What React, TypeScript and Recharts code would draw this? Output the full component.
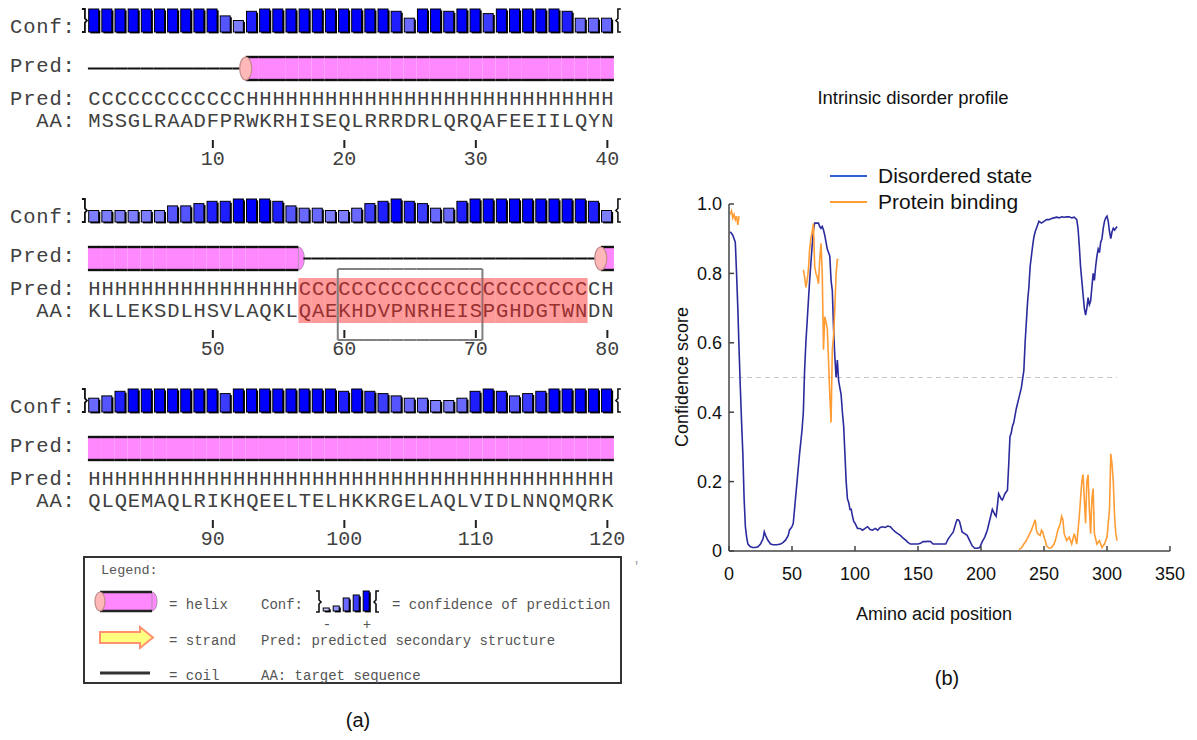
import React from 'react';
import { ComposedChart, Bar, XAxis, YAxis, LineChart, Line, ReferenceLine } from 'recharts';

// ---------------- Panel (a) data ----------------
const predRow1 = 'CCCCCCCCCCCC' + 'HHHHHHHHHHHHHHHHHHHHHHHHHHHH';
const predRow2 = 'HHHHHHHHHHHHHHHH' + 'CCCCCCCCCCCCCCCCCCCCCCC' + 'H';
const predRow3 = 'HHHHHHHHHHHHHHHHHHHHHHHHHHHHHHHHHHHHHHHH';
const aaRow1 = 'MSSGLRAADFPRWKRHISEQLRRRDRLQRQAFEEIILQYN';
const aaRow2 = 'KLLEKSDLHSVLAQKLQAEKHDVPNRHEISPGHDGTWNDN';
const aaRow3 = 'QLQEMAQLRIKHQEELTELHKKRGELAQLVIDLNNQMQRK';
const confRow1 = [9, 9, 9, 9, 9, 9, 9, 9, 9, 9, 6, 4, 8, 9, 9, 9, 9, 9, 9, 9, 9, 9, 9, 8, 5, 9, 9, 8, 9, 9, 7, 9, 9, 9, 9, 9, 8, 5, 5, 5];
const confRow2 = [4, 4, 4, 4, 4, 4, 6, 6, 7, 8, 8, 9, 9, 9, 8, 6, 5, 5, 4, 4, 5, 7, 8, 9, 8, 7, 5, 5, 8, 9, 9, 9, 9, 9, 9, 9, 9, 9, 8, 4];
const confRow3 = [5, 6, 8, 9, 9, 9, 9, 9, 9, 9, 7, 9, 9, 9, 9, 9, 9, 9, 9, 8, 9, 8, 7, 6, 5, 5, 4, 4, 5, 8, 9, 8, 6, 7, 8, 9, 9, 9, 9, 9];
const highlightRange = [57, 78];
const boxRange = [60, 70];
const legendConfIcons = [1, 3, 5, 7, 9];

// ---------------- Panel (b) data ----------------
const disorderPoints: number[][] = [
  [1, 0.92], [3, 0.91], [5, 0.89], [6, 0.8], [7, 0.7], [8, 0.58], [9, 0.47], [10, 0.37], [11, 0.28], [12, 0.15], [13, 0.07], [14, 0.04], [15, 0.02],
  [17, 0.012], [19, 0.01], [21, 0.01], [23, 0.012], [25, 0.02], [27, 0.035], [28, 0.055], [29, 0.045], [31, 0.03], [33, 0.02], [35, 0.018], [38, 0.018],
  [41, 0.02], [43, 0.025], [45, 0.032], [47, 0.045], [48, 0.06], [50, 0.07], [51, 0.08], [52, 0.12], [53, 0.16], [54, 0.2], [55, 0.24], [56, 0.28],
  [58, 0.35], [59, 0.4], [60, 0.52], [61, 0.6], [62, 0.66], [63, 0.72], [64, 0.78], [65, 0.83], [66, 0.88], [67, 0.925], [68, 0.945], [70, 0.945],
  [71, 0.945], [72, 0.935], [73, 0.93], [74, 0.935], [75, 0.925], [76, 0.91], [77, 0.89], [78, 0.87], [79, 0.86], [80, 0.85], [81, 0.78], [82, 0.75],
  [83, 0.64], [84, 0.56], [85, 0.5], [86, 0.55], [87, 0.49], [88, 0.47], [89, 0.45], [90, 0.4], [91, 0.36], [92, 0.28], [93, 0.2], [94, 0.15],
  [95, 0.14], [96, 0.12], [97, 0.12], [98, 0.1], [99, 0.085], [100, 0.08], [102, 0.065], [104, 0.065], [106, 0.06], [108, 0.065], [110, 0.07],
  [112, 0.062], [114, 0.06], [116, 0.065], [118, 0.06], [120, 0.068], [122, 0.07], [124, 0.068], [126, 0.072], [128, 0.07], [130, 0.062], [132, 0.055],
  [134, 0.05], [136, 0.045], [138, 0.038], [140, 0.032], [142, 0.025], [144, 0.02], [146, 0.02], [148, 0.02], [150, 0.02], [152, 0.022], [154, 0.027],
  [156, 0.027], [158, 0.028], [160, 0.027], [162, 0.02], [164, 0.02], [166, 0.02], [168, 0.02], [170, 0.02], [172, 0.02], [174, 0.035], [176, 0.045],
  [178, 0.055], [180, 0.08], [181, 0.09], [182, 0.09], [183, 0.085], [184, 0.07], [185, 0.055], [187, 0.05], [189, 0.045], [191, 0.03], [193, 0.015],
  [195, 0.008], [197, 0.008], [199, 0.01], [201, 0.027], [203, 0.04], [205, 0.06], [207, 0.09], [209, 0.12], [211, 0.105], [212, 0.1], [213, 0.13],
  [214, 0.165], [216, 0.15], [217, 0.147], [219, 0.165], [221, 0.175], [222, 0.25], [223, 0.33], [224, 0.34], [225, 0.36], [226, 0.37], [228, 0.41],
  [230, 0.44], [232, 0.47], [234, 0.52], [235, 0.6], [236, 0.66], [237, 0.72], [238, 0.76], [239, 0.82], [240, 0.85], [241, 0.88], [242, 0.905],
  [243, 0.92], [244, 0.93], [245, 0.94], [246, 0.95], [248, 0.945], [250, 0.95], [252, 0.955], [254, 0.955], [256, 0.958], [258, 0.96], [260, 0.962],
  [262, 0.96], [264, 0.963], [266, 0.962], [268, 0.963], [270, 0.963], [272, 0.96], [274, 0.962], [276, 0.955], [277, 0.93], [278, 0.88], [279, 0.82],
  [280, 0.78], [281, 0.74], [282, 0.7], [283, 0.68], [284, 0.7], [285, 0.73], [286, 0.71], [287, 0.72], [288, 0.76], [289, 0.8], [290, 0.78],
  [291, 0.82], [292, 0.85], [293, 0.87], [294, 0.86], [295, 0.89], [296, 0.9], [297, 0.93], [298, 0.95], [299, 0.96], [300, 0.965], [301, 0.95],
  [302, 0.92], [303, 0.9], [304, 0.92], [305, 0.93], [306, 0.925], [307, 0.93], [308, 0.935],
];
const bindingSeg1: number[][] = [[1, 0.97], [2, 0.98], [3, 0.96], [4, 0.97], [5, 0.955], [6, 0.965], [7, 0.94], [8, 0.965]];
const bindingSeg2: number[][] = [
  [59, 0.81], [60, 0.79], [61, 0.76], [62, 0.78], [63, 0.81], [64, 0.87], [65, 0.9], [66, 0.92], [67, 0.944], [68, 0.82], [69, 0.8], [70, 0.79],
  [71, 0.77], [72, 0.84], [73, 0.887], [74, 0.8], [75, 0.58], [76, 0.675], [77, 0.66], [78, 0.64], [79, 0.55], [80, 0.45], [81, 0.37], [82, 0.58],
  [83, 0.62], [84, 0.7], [85, 0.8], [86, 0.84], [87, 0.84],
];
const bindingSeg3: number[][] = [
  [230, 0.005], [232, 0.008], [234, 0.02], [236, 0.03], [238, 0.045], [240, 0.06], [241, 0.07], [242, 0.08], [243, 0.09], [244, 0.06], [245, 0.05],
  [247, 0.045], [248, 0.06], [249, 0.055], [250, 0.04], [251, 0.03], [252, 0.015], [254, 0.008], [256, 0.01], [258, 0.02], [259, 0.03], [261, 0.06],
  [263, 0.08], [264, 0.1], [265, 0.09], [266, 0.05], [268, 0.03], [270, 0.04], [272, 0.02], [274, 0.05], [276, 0.02], [278, 0.1], [279, 0.15],
  [280, 0.2], [281, 0.22], [282, 0.15], [283, 0.08], [284, 0.2], [285, 0.22], [286, 0.12], [287, 0.05], [288, 0.15], [289, 0.18], [290, 0.05],
  [292, 0.02], [294, 0.03], [296, 0.01], [298, 0.02], [300, 0.04], [302, 0.12], [303, 0.28], [304, 0.25], [305, 0.2], [306, 0.1], [307, 0.05], [308, 0.03],
];
const xTicks = [0, 50, 100, 150, 200, 250, 300, 350];
const yTicks = [0, 0.2, 0.4, 0.6, 0.8, 1.0];
const seriesNames = ['Disordered state', 'Protein binding'];

// ---------------- styles ----------------
const MONO = "'Liberation Mono', 'DejaVu Sans Mono', monospace";
const SANS = "'Liberation Sans', Arial, sans-serif";
const TXT = '#404040';
const BLUE = '#2b2b9e';
const BLUE_LEG = '#2f5fd0';
const ORANGE = '#ff9c33';
const HELIX = '#ff88ff';
const CAP = '#ffb8b8';
const PLOT_L = 88;
const PLOT_W = 526;
const SLOT = PLOT_W / 40;
const BLOCK_TOPS = [0, 190, 380];

const confColor = (c: number) => {
  const k = [210, 200, 180, 150, 125, 105, 85, 60, 30, 0][c];
  return `rgb(${k},${k},255)`;
};

const preds = [predRow1, predRow2, predRow3];
const aas = [aaRow1, aaRow2, aaRow3];
const confs = [confRow1, confRow2, confRow3];
const allPred = preds.join('');

const blocks = [0, 1, 2].map((b) =>
  confs[b].map((c, i) => {
    const pos = b * 40 + i + 1;
    return {
      pos,
      conf: c,
      h: c + 1,
      pred: preds[b][i],
      aa: aas[b][i],
      prev: allPred[pos - 2] || '',
      next: allPred[pos] || '',
      first: i === 0,
      last: i === 39,
    };
  })
);

function ConfGlyph({ cx, bottom, h, c, w = 10 }: any) {
  const x = cx - w / 2 - 0.8;
  return (
    <g>
      <rect x={x + 1.6} y={bottom - h + 1.4} width={w} height={h} fill="#000" />
      <rect x={x} y={bottom - h} width={w} height={h} fill={confColor(c)} stroke="#000" strokeWidth={1} />
    </g>
  );
}

const ResidueShape = (props: any) => {
  const { x, y, width, height, payload } = props;
  if (!payload) return null;
  const cx = x + width / 2;
  const L = cx - SLOT / 2;
  const R = cx + SLOT / 2;
  const bottom = y + height;
  const fullH = (height * 10) / payload.h;
  const top = bottom - fullH;
  const mid = (top + bottom) / 2;
  const rTop = bottom + 25;
  const rBot = bottom + 48;
  const rMid = (rTop + rBot) / 2;
  const rR = (rBot - rTop) / 2;
  const els: any[] = [];
  if (payload.first) {
    els.push(<path key="bl" d={`M${L - 6},${top} H${L - 3} V${mid - 2} L${L - 1},${mid} L${L - 3},${mid + 2} V${bottom} H${L - 6}`} fill="none" stroke="#111" strokeWidth={1.8} />);
  }
  if (payload.last) {
    els.push(<path key="br" d={`M${R + 7},${top} H${R + 4} V${mid - 2} L${R + 2},${mid} L${R + 4},${mid + 2} V${bottom} H${R + 7}`} fill="none" stroke="#111" strokeWidth={1.6} />);
  }
  els.push(<ConfGlyph key="cf" cx={cx} bottom={bottom} h={height} c={payload.conf} />);
  if (payload.pred === 'H') {
    const start = !payload.first && payload.prev !== 'H';
    const end = !payload.last && payload.next !== 'H';
    els.push(<rect key="hb" x={L} y={rTop} width={R - L} height={rBot - rTop} fill={HELIX} />);
    if (end) {
      els.push(<path key="he" d={`M${R},${rTop} A6,${rR} 0 0 1 ${R},${rBot} Z`} fill={HELIX} stroke="#b090b0" strokeWidth={1} />);
    }
    els.push(<line key="ht" x1={L} x2={R} y1={rTop} y2={rTop} stroke="#111" strokeWidth={2.4} />);
    els.push(<line key="hbt" x1={L} x2={R} y1={rBot} y2={rBot} stroke="#111" strokeWidth={2.4} />);
    if (start) {
      els.push(<ellipse key="hc" cx={L} cy={rMid} rx={6} ry={rR} fill={CAP} stroke="#c08a8a" strokeWidth={1.2} />);
    }
  } else {
    const x0 = !payload.first && payload.prev === 'H' ? L + 5 : L;
    els.push(<line key="cl" x1={x0} x2={R} y1={rMid} y2={rMid} stroke="#111" strokeWidth={2} />);
  }
  els.push(<text key="pt" x={cx} y={bottom + 73} textAnchor="middle" fontFamily={MONO} fontSize={20.5} fill={TXT}>{payload.pred}</text>);
  els.push(<text key="at" x={cx} y={bottom + 95} textAnchor="middle" fontFamily={MONO} fontSize={20.5} fill={TXT}>{payload.aa}</text>);
  if (payload.pos >= highlightRange[0] && payload.pos <= highlightRange[1]) {
    els.push(<rect key="hl" x={L} y={bottom + 56} width={R - L} height={45} fill="#ff2020" fillOpacity={0.45} />);
  }
  if (payload.pos >= boxRange[0] && payload.pos <= boxRange[1]) {
    const bt = bottom + 47;
    const bb = bottom + 118;
    els.push(<line key="bxt" x1={L} x2={R} y1={bt} y2={bt} stroke="#808080" strokeWidth={2} />);
    els.push(<line key="bxb" x1={L} x2={R} y1={bb} y2={bb} stroke="#808080" strokeWidth={2} />);
    if (payload.pos === boxRange[0]) els.push(<line key="bxl" x1={L} x2={L} y1={bt} y2={bb} stroke="#808080" strokeWidth={2} />);
    if (payload.pos === boxRange[1]) els.push(<line key="bxr" x1={R} x2={R} y1={bt} y2={bb} stroke="#808080" strokeWidth={2} />);
  }
  if (payload.pos % 10 === 0) {
    els.push(<line key="tk" x1={cx} x2={cx} y1={bottom + 108} y2={bottom + 116} stroke="#222" strokeWidth={2} />);
    els.push(<text key="tn" x={cx} y={bottom + 133} textAnchor="middle" fontFamily={MONO} fontSize={20} fill={TXT}>{payload.pos}</text>);
  }
  return <g>{els}</g>;
};

const XTick = (props: any) => {
  const { x, y, payload } = props;
  return (
    <g>
      <line x1={x} x2={x} y1={y} y2={y - 5} stroke="#444" strokeWidth={1.5} />
      <text x={x} y={y + 29} textAnchor="middle" fontFamily={SANS} fontSize={18} fill="#111">{payload.value}</text>
    </g>
  );
};
const YTick = (props: any) => {
  const { x, y, payload } = props;
  const v = payload.value;
  return (
    <g>
      <line x1={x} x2={x + 5} y1={y} y2={y} stroke="#444" strokeWidth={1.5} />
      <text x={x - 7} y={y} dy="0.36em" textAnchor="end" fontFamily={SANS} fontSize={18} fill="#111">{v === 0 ? '0' : v.toFixed(1)}</text>
    </g>
  );
};

const toData = (pts: number[][]) => pts.map(([x, y]) => ({ x, y }));

export default function App() {
  const labelStyle: any = { fontFamily: MONO, fontSize: 20.5, fill: TXT, letterSpacing: SLOT - 20.5 * 0.6 };
  return (
    <div style={{ position: 'absolute', left: 0, top: 0, width: 1197, height: 740, background: '#fff', overflow: 'hidden' }}>
      <svg width={1197} height={740} style={{ position: 'absolute', left: 0, top: 0 }}>
        {BLOCK_TOPS.map((T) => (
          <g key={T}>
            <text x={10} y={T + 33} {...labelStyle}>Conf:</text>
            <text x={10} y={T + 72} {...labelStyle}>Pred:</text>
            <text x={10} y={T + 105} {...labelStyle}>Pred:</text>
            <text x={10 + 2 * SLOT} y={T + 127} {...labelStyle}>AA:</text>
          </g>
        ))}
        <rect x={84} y={557} width={537} height={126} fill="#fff" stroke="#333" strokeWidth={2} />
        <text x={101} y={574} fontFamily={MONO} fontSize={13.5} fill="#555">Legend:</text>
        <rect x={100} y={592} width={52} height={19} fill={HELIX} />
        <path d="M152,592 A5,9.5 0 0 1 152,611 Z" fill={HELIX} stroke="#b090b0" strokeWidth={1} />
        <line x1={100} x2={152} y1={592} y2={592} stroke="#222" strokeWidth={2.4} />
        <line x1={100} x2={152} y1={611} y2={611} stroke="#222" strokeWidth={2.4} />
        <ellipse cx={100} cy={601.5} rx={5} ry={9.5} fill={CAP} stroke="#c08a8a" strokeWidth={1.2} />
        <text x={169} y={609} fontFamily={MONO} fontSize={14} fill="#555">= helix</text>
        <text x={261} y={609} fontFamily={MONO} fontSize={14} fill="#555">Conf:</text>
        <path d="M316,591 H319 V600 L321,602 L319,604 V612 H316" fill="none" stroke="#111" strokeWidth={1.6} />
        {legendConfIcons.map((c, i) => (
          <ConfGlyph key={i} cx={327 + i * 10} bottom={611} h={[3, 5, 13, 16, 20][i]} c={c} w={6} />
        ))}
        <path d="M379,591 H376 V600 L374,602 L376,604 V612 H379" fill="none" stroke="#111" strokeWidth={1.6} />
        <text x={392} y={609} fontFamily={MONO} fontSize={14} fill="#555">= confidence of prediction</text>
        <text x={327} y={629} textAnchor="middle" fontFamily={MONO} fontSize={14} fill="#555">-</text>
        <text x={367} y={629} textAnchor="middle" fontFamily={MONO} fontSize={14} fill="#555">+</text>
        <path d="M100,632 H140 V627 L153,637.5 L140,648 V643 H100 Z" fill="#ffff80" stroke="#ff9070" strokeWidth={2} />
        <text x={169} y={645} fontFamily={MONO} fontSize={14} fill="#555">= strand</text>
        <text x={261} y={645} fontFamily={MONO} fontSize={14} fill="#555">Pred: predicted secondary structure</text>
        <line x1={100} x2={150} y1={673} y2={673} stroke="#333" strokeWidth={3} />
        <text x={169} y={680} fontFamily={MONO} fontSize={14} fill="#555">= coil</text>
        <text x={261} y={680} fontFamily={MONO} fontSize={14} fill="#555">AA: target sequence</text>
        <text x={633} y={570} fontFamily={MONO} fontSize={12} fill="#999">'</text>
        <text x={358} y={727} textAnchor="middle" fontFamily={SANS} fontSize={20} fill="#111">(a)</text>

        <text x={913} y={104} textAnchor="middle" fontFamily={SANS} fontSize={18.5} fill="#111">Intrinsic disorder profile</text>
        <line x1={830} x2={867} y1={176} y2={176} stroke={BLUE_LEG} strokeWidth={2} />
        <text x={878} y={183} fontFamily={SANS} fontSize={21} fill="#111">{seriesNames[0]}</text>
        <line x1={830} x2={867} y1={202} y2={202} stroke={ORANGE} strokeWidth={2} />
        <text x={878} y={209} fontFamily={SANS} fontSize={21} fill="#111">{seriesNames[1]}</text>
        <text x={688} y={377} transform="rotate(-90 688 377)" textAnchor="middle" fontFamily={SANS} fontSize={18} fill="#111">Confidence score</text>
        <text x={934} y={620} textAnchor="middle" fontFamily={SANS} fontSize={18} fill="#111">Amino acid position</text>
        <text x={947} y={685} textAnchor="middle" fontFamily={SANS} fontSize={20} fill="#111">(b)</text>
      </svg>

      {blocks.map((data, b) => (
        <div key={b} style={{ position: 'absolute', left: 0, top: BLOCK_TOPS[b] }}>
          <ComposedChart width={640} height={190} data={data} margin={{ top: 9, right: 640 - PLOT_L - PLOT_W, bottom: 158, left: PLOT_L }} barCategoryGap={0} barGap={0}>
            <XAxis dataKey="pos" type="category" hide />
            <YAxis type="number" domain={[0, 10]} hide />
            <Bar dataKey="h" shape={ResidueShape} isAnimationActive={false} />
          </ComposedChart>
        </div>
      ))}

      <div style={{ position: 'absolute', left: 640, top: 0 }}>
        <LineChart width={557} height={740} margin={{ top: 204, right: 27, bottom: 159, left: 29 }}>
          <XAxis type="number" dataKey="x" domain={[0, 350]} ticks={xTicks} interval={0} tick={<XTick />} tickLine={false} tickSize={0} tickMargin={0} axisLine={{ stroke: '#444', strokeWidth: 1.5 }} allowDataOverflow height={30} />
          <YAxis type="number" domain={[0, 1]} ticks={yTicks} interval={0} tick={<YTick />} tickLine={false} tickSize={0} tickMargin={0} axisLine={{ stroke: '#444', strokeWidth: 1.5 }} width={60} />
          <ReferenceLine segment={[{ x: 0, y: 0.5 }, { x: 308, y: 0.5 }]} stroke="#c8c8c8" strokeDasharray="5 4" strokeWidth={1} />
          <Line data={toData(disorderPoints)} dataKey="y" stroke={BLUE} strokeWidth={1.6} dot={false} isAnimationActive={false} />
          <Line data={toData(bindingSeg1)} dataKey="y" stroke={ORANGE} strokeWidth={1.6} dot={false} isAnimationActive={false} />
          <Line data={toData(bindingSeg2)} dataKey="y" stroke={ORANGE} strokeWidth={1.6} dot={false} isAnimationActive={false} />
          <Line data={toData(bindingSeg3)} dataKey="y" stroke={ORANGE} strokeWidth={1.6} dot={false} isAnimationActive={false} />
        </LineChart>
      </div>
    </div>
  );
}
